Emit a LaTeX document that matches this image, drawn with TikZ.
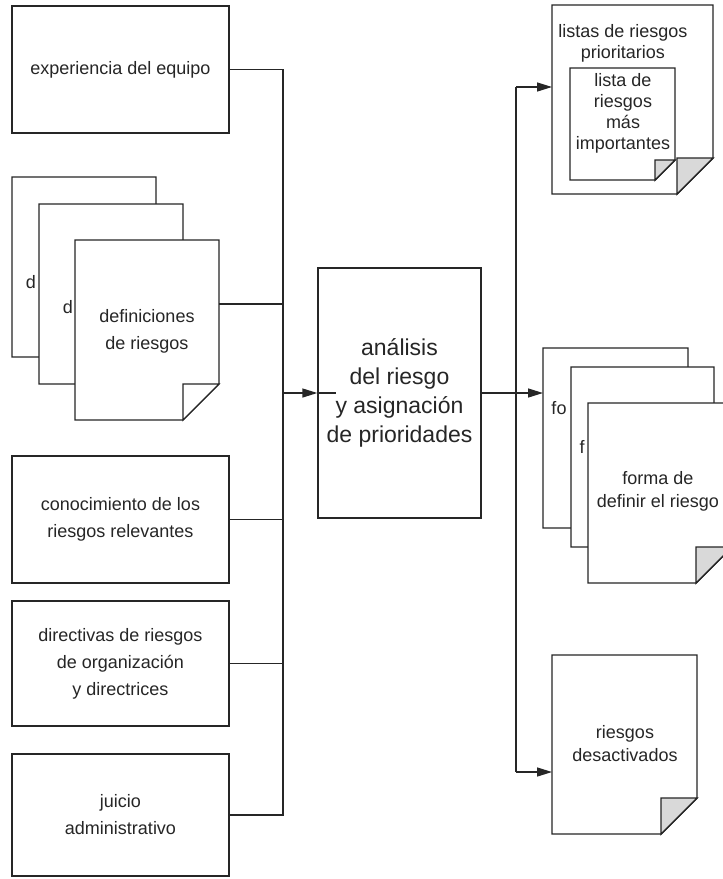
\documentclass[tikz,border=0pt]{standalone}
\usepackage{fontspec}
\setmainfont{Liberation Sans}
\usetikzlibrary{arrows.meta}
\newcommand\docdraw[3]{%
  \draw[ln, fill=white] (#1.north west) -- (#1.north east) -- ([yshift=#2]#1.south east)
     -- ([xshift=-#2]#1.south east) -- (#1.south west) -- cycle;
  \draw[ln, fill=#3] ([yshift=#2]#1.south east) -- ([xshift=-#2,yshift=#2]#1.south east)
     -- ([xshift=-#2]#1.south east) -- cycle;
}
\begin{document}
\begin{tikzpicture}[x=1pt,y=-1pt,
  ln/.style={line width=1.4pt, draw=black!85},
  box/.style={ln, draw, fill=white, inner sep=0pt, align=center, text=black!85,
              minimum width=217pt, font=\fontsize{18}{27}\selectfont},
  docn/.style={inner sep=0pt, outer sep=0pt},
  txt/.style={inner sep=0pt, align=center, text=black!85, font=\fontsize{18}{23}\selectfont},
  arr/.style={ln, -{Triangle[length=15pt,width=9pt]}},
  foldgray/.style={},
]
\useasboundingbox (0,0) rectangle (723,879);
\fill[white] (0,0) rectangle (723,879);
\clip (0,0) rectangle (723,879);

% left boxes
\node[box, minimum height=127pt] (exp) at (120.5,69.5) {experiencia del equipo};
\node[box, minimum height=127pt] (con) at (120.5,519.5) {conocimiento de los\\riesgos relevantes};
\node[box, minimum height=125pt] (dir) at (120.5,663.5) {directivas de riesgos\\de organización\\y directrices};
\node[box, minimum height=122pt] (jui) at (120.5,815) {juicio\\administrativo};

% definiciones stack
\node[docn, minimum width=144pt, minimum height=180pt] (def1) at (84,267) {};
\docdraw{def1}{36pt}{white}
\node[txt] (def1t) at (31,282) {d};
\node[docn, minimum width=144pt, minimum height=180pt] (def2) at (111,294) {};
\docdraw{def2}{36pt}{white}
\node[txt] (def2t) at (68,307) {d};
\node[docn, minimum width=144pt, minimum height=180pt] (def3) at (147,330) {};
\docdraw{def3}{36pt}{white}
\node[txt, font=\fontsize{18}{27}\selectfont] (def3t) at (147,331.5) {definiciones\\de riesgos};

% centre box
\node[box, minimum width=163pt, minimum height=250pt, font=\fontsize{23}{29}\selectfont] (c) at (399.5,393)
  {análisis\\del riesgo\\y asignación\\de prioridades};

% left bus
\coordinate (busx) at (283,0);
\draw[ln] (exp.east) -- (exp.east -| busx) -- (jui.east -| busx) -- (jui.east);
\draw[ln] ([yshift=26pt]def3.east) -- ([yshift=26pt]def3.east -| busx);
\draw[ln] (con.east) -- (con.east -| busx);
\draw[ln] (dir.east) -- (dir.east -| busx);
\draw[arr] (c.west -| busx) -- (c.west);
\draw[ln] (c.west) -- ++(19,0);

% listas
\node[docn, minimum width=161pt, minimum height=189pt] (lis) at (632.5,99.5) {};
\docdraw{lis}{36pt}{black!15}
\node[txt, font=\fontsize{18}{21}\selectfont] (list) at (623,43.5) {listas de riesgos\\prioritarios};
\node[docn, minimum width=105pt, minimum height=112pt] (lin) at (622.5,124) {};
\docdraw{lin}{20pt}{black!15}
\node[txt, font=\fontsize{18}{21}\selectfont] (lint) at (623,113) {lista de\\riesgos\\más\\importantes};

% forma stack
\node[docn, minimum width=145pt, minimum height=180pt] (fo1) at (615.5,438) {};
\docdraw{fo1}{36pt}{black!15}
\node[txt] (fo1t) at (559,408) {fo};
\node[docn, minimum width=143pt, minimum height=180pt] (fo2) at (642.5,457) {};
\docdraw{fo2}{36pt}{black!15}
\node[txt] (fo2t) at (582,447) {f};
\node[docn, minimum width=144pt, minimum height=180pt] (fo3) at (660,493) {};
\docdraw{fo3}{36pt}{black!15}
\node[txt] (fo3t) at (658,491.5) {forma de\\definir el riesgo};

% desactivados
\node[docn, minimum width=145pt, minimum height=179pt] (des) at (624.5,744.5) {};
\docdraw{des}{36pt}{black!15}
\node[txt] (dest) at (625,743.5) {riesgos\\desactivados};

% right connectors
\coordinate (rt) at (516,87);
\coordinate (rb) at (516,772);
\draw[ln] (c.east) -- (c.east -| rt);
\draw[ln] (rt) -- (rb);
\draw[arr] (c.east -| rt) -- (c.east -| fo1.west);
\draw[arr] (rt) -- (rt -| lis.west);
\draw[arr] (rb) -- (rb -| des.west);
\end{tikzpicture}
\end{document}
